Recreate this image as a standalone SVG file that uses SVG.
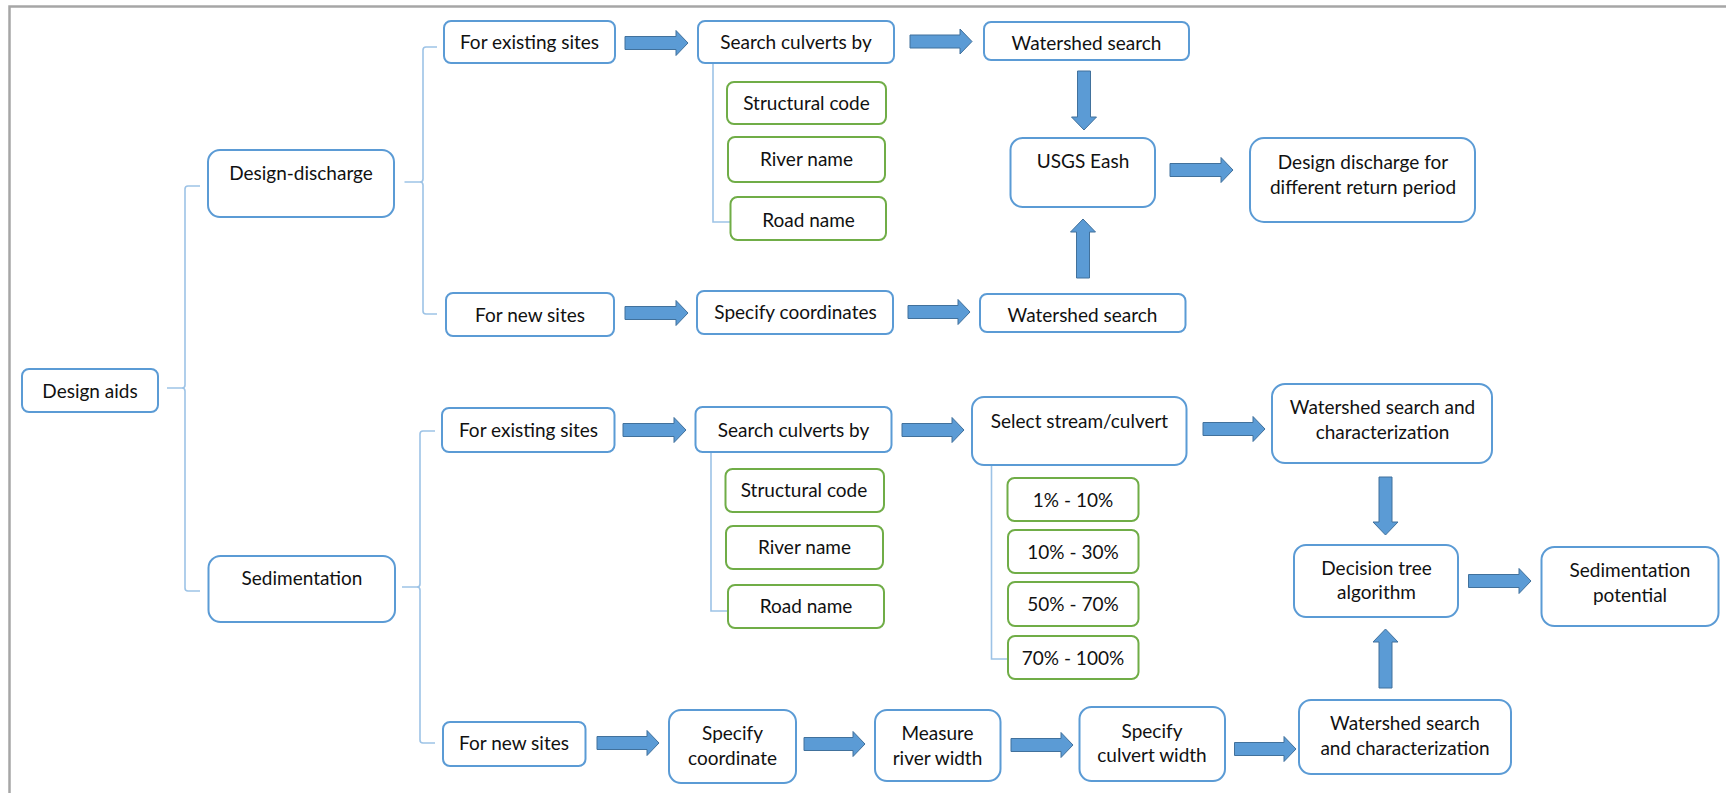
<svg xmlns="http://www.w3.org/2000/svg" width="1726" height="793" viewBox="0 0 1726 793">
  <style>
    .box { fill: #ffffff; stroke: #5B9BD5; stroke-width: 2; }
    .opt { fill: #ffffff; stroke: #70AD47; stroke-width: 2; }
    .lbl { font-family: Lato, "Liberation Sans", sans-serif; font-size: 19px; fill: #111111; text-anchor: middle; }
    .brace { fill: none; stroke: #9DC3E6; stroke-width: 1.6; }
    .arrow { fill: #5B9BD5; stroke: #41719C; stroke-width: 1; }
    .frame { fill: none; stroke: #A6A6A6; stroke-width: 2.5; }
  </style>

  <!-- page frame -->
  <path class="frame" d="M 9.5 793 V 6.5 H 1726"/>

  <!-- connectors: tree braces, option stems and block arrows -->
  <g id="connectors">
    <path class="brace" d="M 200 186 H 188 Q 185 186 185 189 V 385 Q 185 388 182 388 H 167 M 182 388 Q 185 388 185 391 V 588 Q 185 591 188 591 H 200"/>
    <path class="brace" d="M 437 47 H 426 Q 423 47 423 50 V 179 Q 423 182 420 182 H 404.5 M 420 182 Q 423 182 423 185 V 311 Q 423 314 426 314 H 437"/>
    <path class="brace" d="M 435 431 H 423 Q 420 431 420 434 V 584 Q 420 587 417 587 H 402 M 417 587 Q 420 587 420 590 V 740 Q 420 743 423 743 H 435"/>

    <path class="brace" d="M 713 63 V 222 H 730.5"/>
    <path class="brace" d="M 711 452 V 611 H 728"/>
    <path class="brace" d="M 991.5 465 V 659 H 1008"/>

    <!-- horizontal block arrows -->
    <path class="arrow" d="M 625 36.5 H 676 V 30.5 L 688 43 L 676 55.5 V 49.5 H 625 Z"/>
    <path class="arrow" d="M 910 35 H 960 V 29 L 972 41.5 L 960 54 V 48 H 910 Z"/>
    <path class="arrow" d="M 1170 163.5 H 1221 V 157.5 L 1233 170 L 1221 182.5 V 176.5 H 1170 Z"/>
    <path class="arrow" d="M 625 306.5 H 676 V 300.5 L 688 313 L 676 325.5 V 319.5 H 625 Z"/>
    <path class="arrow" d="M 908 305.5 H 958 V 299.5 L 970 312 L 958 324.5 V 318.5 H 908 Z"/>
    <path class="arrow" d="M 623 423.5 H 674 V 417.5 L 686 430 L 674 442.5 V 436.5 H 623 Z"/>
    <path class="arrow" d="M 902 423.5 H 952 V 417.5 L 964 430 L 952 442.5 V 436.5 H 902 Z"/>
    <path class="arrow" d="M 1203 422.5 H 1253 V 416.5 L 1265 429 L 1253 441.5 V 435.5 H 1203 Z"/>
    <path class="arrow" d="M 1468.5 574.5 H 1519 V 568.5 L 1531 581 L 1519 593.5 V 587.5 H 1468.5 Z"/>
    <path class="arrow" d="M 597 736.5 H 647 V 730.5 L 659 743 L 647 755.5 V 749.5 H 597 Z"/>
    <path class="arrow" d="M 804 737.5 H 853 V 731.5 L 865 744 L 853 756.5 V 750.5 H 804 Z"/>
    <path class="arrow" d="M 1011 738.5 H 1061 V 732.5 L 1073 745 L 1061 757.5 V 751.5 H 1011 Z"/>
    <path class="arrow" d="M 1234.5 742.5 H 1284 V 736.5 L 1296 749 L 1284 761.5 V 755.5 H 1234.5 Z"/>

    <!-- vertical block arrows -->
    <path class="arrow" d="M 1077.5 71 V 117 H 1071.5 L 1084 130 L 1096.5 117 H 1090.5 V 71 Z"/>
    <path class="arrow" d="M 1076.5 278 V 232 H 1070.5 L 1083 219 L 1095.5 232 H 1089.5 V 278 Z"/>
    <path class="arrow" d="M 1379 477 V 522 H 1373 L 1385.5 535 L 1398 522 H 1392 V 477 Z"/>
    <path class="arrow" d="M 1379 688 V 642 H 1373 L 1385.5 629 L 1398 642 H 1392 V 688 Z"/>
  </g>

  <!-- root -->
  <g id="design-aids">
    <rect class="box" x="22" y="369" width="136" height="43" rx="7"/>
    <text class="lbl" x="90" y="398">Design aids</text>
  </g>

  <!-- design discharge branch -->
  <g id="design-discharge">
    <rect class="box" x="208" y="150" width="186" height="67" rx="12"/>
    <text class="lbl" x="301" y="180">Design-discharge</text>
  </g>
  <g id="dd-existing">
    <rect class="box" x="444" y="21" width="171" height="42" rx="7"/>
    <text class="lbl" x="529.5" y="49">For existing sites</text>
  </g>
  <g id="dd-new">
    <rect class="box" x="446" y="293" width="168" height="43" rx="7"/>
    <text class="lbl" x="530" y="322">For new sites</text>
  </g>
  <g id="dd-search">
    <rect class="box" x="698" y="21" width="196" height="42" rx="7"/>
    <text class="lbl" x="796" y="49">Search culverts by</text>
  </g>
  <g id="dd-structural">
    <rect class="opt" x="727" y="82" width="159" height="42" rx="7"/>
    <text class="lbl" x="806.5" y="110">Structural code</text>
  </g>
  <g id="dd-river">
    <rect class="opt" x="728" y="137" width="157" height="45" rx="7"/>
    <text class="lbl" x="806.5" y="166">River name</text>
  </g>
  <g id="dd-road">
    <rect class="opt" x="730.5" y="197" width="155.5" height="43" rx="7"/>
    <text class="lbl" x="808.5" y="227">Road name</text>
  </g>
  <g id="dd-coordinates">
    <rect class="box" x="697" y="291" width="196" height="43" rx="7"/>
    <text class="lbl" x="795.5" y="319">Specify coordinates</text>
  </g>
  <g id="dd-watershed-top">
    <rect class="box" x="984" y="22" width="205" height="38" rx="7"/>
    <text class="lbl" x="1086.5" y="50">Watershed search</text>
  </g>
  <g id="dd-watershed-bottom">
    <rect class="box" x="980" y="294" width="205.5" height="38" rx="7"/>
    <text class="lbl" x="1082.5" y="322">Watershed search</text>
  </g>
  <g id="usgs-eash">
    <rect class="box" x="1010.5" y="138" width="144.5" height="69" rx="12"/>
    <text class="lbl" x="1083" y="168">USGS Eash</text>
  </g>
  <g id="design-discharge-result">
    <rect class="box" x="1250" y="138" width="225" height="84" rx="14"/>
    <text class="lbl" x="1363" y="169">Design discharge for</text>
    <text class="lbl" x="1363" y="194">different return period</text>
  </g>

  <!-- sedimentation branch -->
  <g id="sedimentation">
    <rect class="box" x="208.5" y="556" width="186.5" height="66" rx="12"/>
    <text class="lbl" x="302" y="585">Sedimentation</text>
  </g>
  <g id="sed-existing">
    <rect class="box" x="442" y="408" width="172.5" height="44" rx="7"/>
    <text class="lbl" x="528.5" y="437">For existing sites</text>
  </g>
  <g id="sed-new">
    <rect class="box" x="443" y="722" width="142.5" height="44" rx="7"/>
    <text class="lbl" x="514" y="750">For new sites</text>
  </g>
  <g id="sed-search">
    <rect class="box" x="695.5" y="407" width="196" height="45" rx="7"/>
    <text class="lbl" x="793.5" y="437">Search culverts by</text>
  </g>
  <g id="sed-structural">
    <rect class="opt" x="725.5" y="469" width="158.5" height="43" rx="7"/>
    <text class="lbl" x="804" y="497">Structural code</text>
  </g>
  <g id="sed-river">
    <rect class="opt" x="726" y="526" width="157" height="43" rx="7"/>
    <text class="lbl" x="804.5" y="554">River name</text>
  </g>
  <g id="sed-road">
    <rect class="opt" x="728" y="585" width="156" height="43" rx="7"/>
    <text class="lbl" x="806" y="613">Road name</text>
  </g>
  <g id="select-stream">
    <rect class="box" x="972" y="397" width="214.5" height="68" rx="12"/>
    <text class="lbl" x="1079.5" y="428">Select stream/culvert</text>
  </g>
  <g id="pct-1-10">
    <rect class="opt" x="1007.5" y="478" width="131" height="43" rx="7"/>
    <text class="lbl" x="1073" y="507">1% - 10%</text>
  </g>
  <g id="pct-10-30">
    <rect class="opt" x="1008" y="530" width="130.5" height="43" rx="7"/>
    <text class="lbl" x="1073" y="559">10% - 30%</text>
  </g>
  <g id="pct-50-70">
    <rect class="opt" x="1008" y="582" width="130.5" height="44" rx="7"/>
    <text class="lbl" x="1073" y="611">50% - 70%</text>
  </g>
  <g id="pct-70-100">
    <rect class="opt" x="1008" y="636" width="130.5" height="43" rx="7"/>
    <text class="lbl" x="1073" y="665">70% - 100%</text>
  </g>
  <g id="sed-watershed-top">
    <rect class="box" x="1272" y="384" width="220" height="79" rx="13"/>
    <text class="lbl" x="1382.5" y="414">Watershed search and</text>
    <text class="lbl" x="1382.5" y="439">characterization</text>
  </g>
  <g id="decision-tree">
    <rect class="box" x="1294" y="545" width="164" height="72" rx="12"/>
    <text class="lbl" x="1376.5" y="575">Decision tree</text>
    <text class="lbl" x="1376.5" y="599">algorithm</text>
  </g>
  <g id="sedimentation-potential">
    <rect class="box" x="1541.5" y="547" width="177" height="79" rx="13"/>
    <text class="lbl" x="1630" y="577">Sedimentation</text>
    <text class="lbl" x="1630" y="602">potential</text>
  </g>
  <g id="specify-coordinate">
    <rect class="box" x="669" y="710" width="127" height="73" rx="12"/>
    <text class="lbl" x="732.5" y="740">Specify</text>
    <text class="lbl" x="732.5" y="765">coordinate</text>
  </g>
  <g id="measure-river">
    <rect class="box" x="875" y="710" width="125.5" height="71" rx="12"/>
    <text class="lbl" x="937.5" y="740">Measure</text>
    <text class="lbl" x="937.5" y="765">river width</text>
  </g>
  <g id="specify-culvert">
    <rect class="box" x="1079.5" y="707" width="145.5" height="74" rx="12"/>
    <text class="lbl" x="1152" y="738">Specify</text>
    <text class="lbl" x="1152" y="762">culvert width</text>
  </g>
  <g id="sed-watershed-bottom">
    <rect class="box" x="1299" y="700" width="212" height="74" rx="12"/>
    <text class="lbl" x="1405" y="730">Watershed search</text>
    <text class="lbl" x="1405" y="755">and characterization</text>
  </g>
</svg>
